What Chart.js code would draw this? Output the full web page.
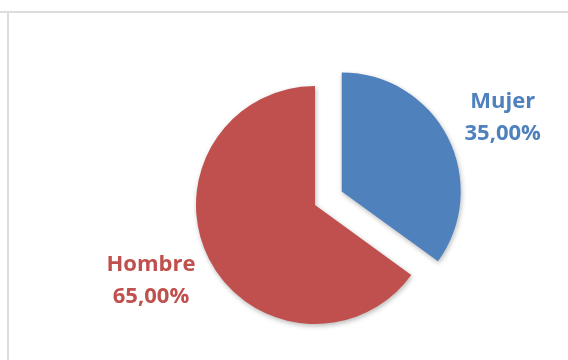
<!DOCTYPE html>
<html>
<head>
<meta charset="utf-8">
<script src="https://cdn.jsdelivr.net/npm/chart.js@4.4.1/dist/chart.umd.min.js"></script>
<style>
  html, body { margin: 0; padding: 0; background: #fff; }
  #wrap { position: relative; width: 568px; height: 360px; overflow: hidden; }
  #frame-top { position: absolute; left: 0; top: 11px; width: 568px; height: 2px; background: #dcdcdc; }
  #frame-left { position: absolute; left: 7px; top: 12px; width: 2px; height: 348px; background: #dcdcdc; }
  canvas { position: absolute; left: 0; top: 0; }
</style>
</head>
<body>
<div id="wrap">
  <div id="frame-top"></div>
  <div id="frame-left"></div>
  <canvas id="pie" width="568" height="360"></canvas>
</div>
<script>
// ======================
// Datos
// ======================
const categorias = ["Mujer", "Hombre"];
const porcentajes = [35, 65];
const colores = ["#4F81BD", "#C0504D"];

// separación del sector "Mujer" (px) y posición de etiquetas respecto al centro del sector
const EXPLOSION = [30, 0];
const LABEL_POS = [[161, -67], [-164, 82]];

const fmtPct = (v) => v.toFixed(2).replace(".", ",") + "%";

// desplaza el sector hacia afuera según su ángulo medio
const explodePlugin = {
  id: "explode",
  afterDatasetsUpdate(chart) {
    const meta = chart.getDatasetMeta(0);
    meta.data.forEach((arc, i) => {
      const d = EXPLOSION[i] || 0;
      if (!d) return;
      const mid = (arc.startAngle + arc.endAngle) / 2;
      arc.x += Math.cos(mid) * d;
      arc.y += Math.sin(mid) * d;
    });
  }
};

// sombra suave bajo los sectores
const shadowPlugin = {
  id: "softShadow",
  beforeDatasetsDraw(chart) {
    const ctx = chart.ctx;
    ctx.save();
    ctx.shadowColor = "rgba(0,0,0,0.28)";
    ctx.shadowBlur = 5;
    ctx.shadowOffsetX = 1;
    ctx.shadowOffsetY = 2;
  },
  afterDatasetsDraw(chart) {
    chart.ctx.restore();
  }
};

// etiquetas: categoría + porcentaje
const labelPlugin = {
  id: "pieLabels",
  afterDraw(chart) {
    const ctx = chart.ctx;
    const meta = chart.getDatasetMeta(0);
    ctx.save();
    ctx.font = "bold 22px 'Open Sans'";
    ctx.textAlign = "center";
    ctx.textBaseline = "alphabetic";
    meta.data.forEach((arc, i) => {
      const [dx, dy] = LABEL_POS[i];
      const x = arc.x + dx;
      const y = arc.y + dy;
      ctx.fillStyle = colores[i];
      ctx.fillText(categorias[i], x, y - 16);
      ctx.fillText(fmtPct(porcentajes[i]), x, y + 16);
    });
    ctx.restore();
  }
};

new Chart(document.getElementById("pie"), {
  type: "pie",
  data: {
    labels: categorias,
    datasets: [{
      data: porcentajes,
      backgroundColor: colores,
      borderWidth: 0
    }]
  },
  options: {
    responsive: false,
    animation: false,
    radius: 119,
    rotation: 0,
    layout: { padding: { left: 62, top: 50, right: 0, bottom: 0 } },
    plugins: {
      legend: { display: false },
      tooltip: { enabled: false }
    }
  },
  plugins: [explodePlugin, shadowPlugin, labelPlugin]
});
</script>
</body>
</html>
